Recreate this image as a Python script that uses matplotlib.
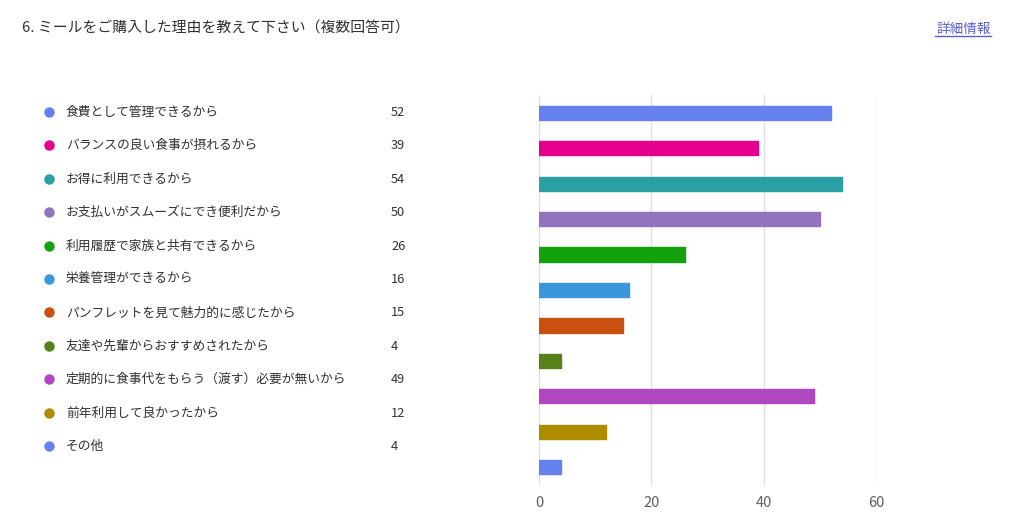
import matplotlib.pyplot as plt

plt.rcParams['font.family'] = ['Noto Sans CJK JP', 'DejaVu Sans']

# データ
reasons = ["食費として管理できるから", "バランスの良い食事が摂れるから", "お得に利用できるから",
           "お支払いがスムーズにでき便利だから", "利用履歴で家族と共有できるから", "栄養管理ができるから",
           "パンフレットを見て魅力的に感じたから", "友達や先輩からおすすめされたから",
           "定期的に食事代をもらう（渡す）必要が無いから", "前年利用して良かったから", "その他"]
counts = [52, 39, 54, 50, 26, 16, 15, 4, 49, 12, 4]
colors = ["#6680ee", "#e3008c", "#2aa0a4", "#9373c0", "#13a10e", "#3a96dd",
          "#ca5010", "#57811b", "#b146c2", "#ae8c00", "#6680ee"]
xticks = [0, 20, 40, 60]

W, H = 1024, 515
fig = plt.figure(figsize=(W / 100, H / 100), dpi=100)

# タイトル
fig.text(22 / W, 1 - 27 / H, "6. ミールをご購入した理由を教えて下さい（複数回答可）",
         fontsize=10.7, color="#323130", va="center_baseline", ha="left")
fig.text(991 / W, 1 - 27 / H, "詳細情報", fontsize=9.8, color="#5b5fc7",
         va="center_baseline", ha="right")
fig.add_artist(plt.Line2D([935 / W, 991 / W], [1 - 36 / H, 1 - 36 / H],
                          color="#5b5fc7", lw=1))

# 凡例
for i, (r, c, col) in enumerate(zip(reasons, counts, colors)):
    y = 1 - (112 + i * 33.4) / H
    fig.add_artist(plt.Line2D([49 / W], [y], marker="o", markersize=7.5,
                              color=col, markeredgewidth=0, linestyle="none"))
    fig.text(66 / W, y + 1 / H, r, color="#323130", fontsize=9.2,
             va="center_baseline", ha="left")
    fig.text(391 / W, y + 1 / H, str(c), color="#323130", fontsize=9.2,
             va="center_baseline", ha="left")

# 棒グラフ
ax = fig.add_axes([539 / W, 1 - 485 / H, 337 / W, 390 / H])
ypos = list(range(len(counts)))
ax.barh(ypos, counts, height=0.40, color=colors, edgecolor=colors,
        linewidth=1.0, joinstyle="round", zorder=3)
ax.set_ylim(len(counts) - 0.5, -0.5)
ax.set_xlim(0, 60)
ax.set_xticks(xticks)
ax.set_yticks([])
ax.grid(axis="x", color="#e1dfdd", lw=1, zorder=0)
for s in ax.spines.values():
    s.set_visible(False)
ax.tick_params(axis="x", length=0, colors="#605e5c", labelsize=10.5, pad=8)

fig.savefig("out.png", dpi=100, facecolor="white")
